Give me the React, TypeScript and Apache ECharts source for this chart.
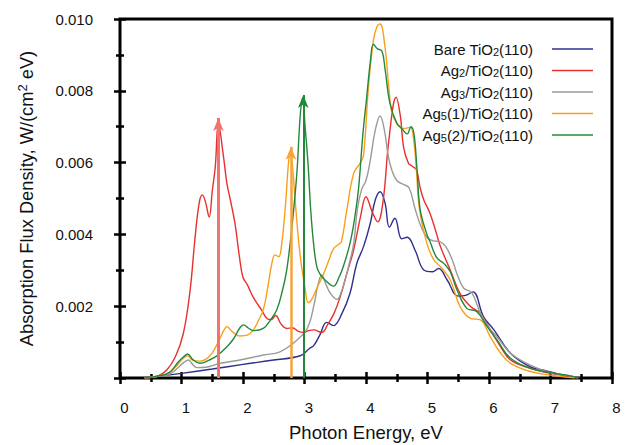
import React, { useEffect, useRef } from 'react';
import * as echarts from 'echarts';

const seriesNames = ['Bare TiO2(110)', 'Ag2/TiO2(110)', 'Ag3/TiO2(110)', 'Ag5(1)/TiO2(110)', 'Ag5(2)/TiO2(110)'];
const legendLabels: Record<string, string> = {
  'Bare TiO2(110)': 'Bare TiO{s|2}(110)',
  'Ag2/TiO2(110)': 'Ag{s|2}/TiO{s|2}(110)',
  'Ag3/TiO2(110)': 'Ag{s|3}/TiO{s|2}(110)',
  'Ag5(1)/TiO2(110)': 'Ag{s|5}(1)/TiO{s|2}(110)',
  'Ag5(2)/TiO2(110)': 'Ag{s|5}(2)/TiO{s|2}(110)',
};
const colors = ['#2f2f8c', '#e8302c', '#9a9a9a', '#f8a01c', '#23883a'];

const bare: number[][] = [
  [0.4, 0], [0.5, 0.00002], [1.0, 0.00013], [1.5, 0.00025], [2.0, 0.00038], [2.5, 0.0005], [2.93, 0.00062],
  [3.08, 0.00082], [3.15, 0.0009], [3.25, 0.0012], [3.36, 0.00155], [3.47, 0.00146], [3.61, 0.0018],
  [3.74, 0.00236], [3.85, 0.00319], [3.96, 0.00366], [4.07, 0.00431], [4.15, 0.00496], [4.23, 0.00519],
  [4.31, 0.00487], [4.38, 0.0042], [4.47, 0.00445], [4.58, 0.00388], [4.67, 0.00392], [4.8, 0.00355],
  [4.94, 0.00301], [5.08, 0.00296], [5.18, 0.00305], [5.32, 0.00273], [5.5, 0.00228], [5.62, 0.0023],
  [5.74, 0.0024], [5.91, 0.00171], [6.08, 0.00134], [6.35, 0.00069], [6.67, 0.00031], [6.89, 0.00022],
  [7.21, 0.00008], [7.48, 0.00001],
];

const ag2: number[][] = [
  [0.4, 0], [0.6, 0.00004], [0.76, 0.00022], [0.9, 0.00059], [1.03, 0.00124], [1.14, 0.00245], [1.22, 0.0039],
  [1.29, 0.0049], [1.34, 0.0051], [1.39, 0.0049], [1.45, 0.00448], [1.5, 0.0052], [1.55, 0.0059], [1.6, 0.0071],
  [1.68, 0.0062], [1.74, 0.0054], [1.79, 0.005], [1.87, 0.0043], [1.94, 0.0034], [2.0, 0.0028], [2.07, 0.0026],
  [2.15, 0.0023], [2.22, 0.0021], [2.3, 0.0019], [2.39, 0.00166], [2.46, 0.00163], [2.53, 0.00174],
  [2.62, 0.0015], [2.71, 0.00138], [2.8, 0.0014], [2.9, 0.0013], [2.98, 0.00127], [3.07, 0.00132],
  [3.15, 0.00134], [3.28, 0.00127], [3.38, 0.0015], [3.48, 0.0018], [3.58, 0.00226], [3.69, 0.00292],
  [3.8, 0.00357], [3.91, 0.00449], [4.0, 0.00505], [4.1, 0.00463], [4.19, 0.00435], [4.28, 0.00496],
  [4.37, 0.0066], [4.49, 0.00782], [4.56, 0.00728], [4.61, 0.00644], [4.69, 0.00598], [4.75, 0.0059],
  [4.82, 0.0058], [4.88, 0.0053], [4.94, 0.00496], [5.04, 0.00459], [5.15, 0.004], [5.21, 0.00366],
  [5.37, 0.00301], [5.53, 0.00235], [5.7, 0.00199], [5.86, 0.0018], [6.02, 0.00134], [6.19, 0.00087],
  [6.35, 0.0005], [6.67, 0.00027], [7.0, 0.00013], [7.32, 0.00004], [7.45, 0],
];

const ag3: number[][] = [
  [0.4, 0], [0.6, 0.00004], [0.8, 0.0001], [0.95, 0.0003], [1.05, 0.00045], [1.11, 0.0005], [1.18, 0.00038],
  [1.25, 0.00029], [1.4, 0.0003], [1.63, 0.00041], [1.95, 0.0005], [2.33, 0.00064], [2.6, 0.00073],
  [2.88, 0.00106], [3.05, 0.0014], [3.15, 0.002], [3.22, 0.0026], [3.28, 0.00287], [3.35, 0.0026],
  [3.42, 0.00236], [3.53, 0.00219], [3.6, 0.0024], [3.66, 0.00273], [3.73, 0.0032], [3.8, 0.00375],
  [3.86, 0.0047], [3.93, 0.00526], [4.0, 0.0055], [4.07, 0.00607], [4.15, 0.0069], [4.23, 0.0073],
  [4.3, 0.0069], [4.36, 0.0062], [4.42, 0.00579], [4.5, 0.0055], [4.6, 0.0054], [4.7, 0.0053],
  [4.8, 0.0047], [4.9, 0.0042], [5.0, 0.0039], [5.1, 0.00382], [5.2, 0.0038], [5.3, 0.00365],
  [5.4, 0.0033], [5.48, 0.0029], [5.59, 0.0025], [5.72, 0.00238], [5.86, 0.0018], [6.0, 0.0014],
  [6.13, 0.00115], [6.35, 0.00069], [6.67, 0.00036], [7.0, 0.00015], [7.32, 0.00006], [7.45, 0],
];

const ag5a: number[][] = [
  [0.4, 0], [0.6, 0.00005], [0.8, 0.00015], [0.95, 0.0004], [1.05, 0.00058], [1.1, 0.00062], [1.18, 0.0005],
  [1.3, 0.00047], [1.46, 0.00061], [1.6, 0.00101], [1.68, 0.0013], [1.74, 0.00143], [1.82, 0.0013],
  [1.95, 0.00117], [2.08, 0.0012], [2.17, 0.00134], [2.25, 0.0016], [2.33, 0.0019], [2.4, 0.0025],
  [2.47, 0.0032], [2.52, 0.00343], [2.58, 0.00338], [2.62, 0.0036], [2.69, 0.0048], [2.74, 0.006],
  [2.77, 0.0063], [2.81, 0.0058], [2.85, 0.0049], [2.93, 0.0034], [3.01, 0.0025], [3.06, 0.0021],
  [3.12, 0.0022], [3.2, 0.0025], [3.31, 0.0029], [3.4, 0.0033], [3.47, 0.0036], [3.55, 0.00372],
  [3.6, 0.0038], [3.69, 0.0047], [3.8, 0.0057], [3.91, 0.006], [3.96, 0.0062], [4.04, 0.0081],
  [4.12, 0.0094], [4.18, 0.0098], [4.23, 0.00986], [4.31, 0.0092], [4.37, 0.0081], [4.42, 0.0074],
  [4.5, 0.0071], [4.61, 0.00695], [4.72, 0.00698], [4.77, 0.0067], [4.82, 0.0058], [4.87, 0.0047],
  [4.99, 0.00375], [5.1, 0.0033], [5.21, 0.0031], [5.37, 0.00273], [5.53, 0.00199], [5.7, 0.00166],
  [5.86, 0.00162], [6.02, 0.00115], [6.19, 0.00069], [6.35, 0.00041], [6.67, 0.00018], [7.0, 0.00008],
  [7.4, 0],
];

const ag5b: number[][] = [
  [0.4, 0], [0.6, 0.00005], [0.8, 0.00015], [0.95, 0.00045], [1.04, 0.0006], [1.1, 0.00067], [1.18, 0.00052],
  [1.3, 0.00041], [1.45, 0.0005], [1.57, 0.00061], [1.74, 0.00087], [1.85, 0.0011], [1.95, 0.0014],
  [2.01, 0.00148], [2.08, 0.0014], [2.17, 0.00132], [2.33, 0.00138], [2.44, 0.0016], [2.55, 0.0019],
  [2.65, 0.0025], [2.71, 0.003], [2.77, 0.0038], [2.83, 0.0048], [2.88, 0.0058], [2.93, 0.0073],
  [2.97, 0.0078], [3.01, 0.007], [3.06, 0.0059], [3.1, 0.0047], [3.15, 0.0037], [3.2, 0.0031],
  [3.25, 0.0029], [3.35, 0.0027], [3.47, 0.00256], [3.56, 0.0028], [3.63, 0.0031], [3.74, 0.00375],
  [3.82, 0.0045], [3.88, 0.0053], [3.95, 0.0068], [4.01, 0.0078], [4.07, 0.0088], [4.12, 0.0093],
  [4.18, 0.00918], [4.26, 0.0091], [4.31, 0.0086], [4.39, 0.00765], [4.5, 0.0071], [4.58, 0.00695],
  [4.67, 0.0068], [4.73, 0.007], [4.78, 0.0068], [4.83, 0.0058], [4.88, 0.0047], [4.99, 0.004],
  [5.04, 0.0038], [5.15, 0.00335], [5.26, 0.0032], [5.37, 0.00296], [5.48, 0.00245], [5.64, 0.00194],
  [5.8, 0.00185], [5.97, 0.00143], [6.13, 0.00106], [6.35, 0.00055], [6.67, 0.00027], [7.0, 0.00015],
  [7.32, 0.00006], [7.45, 0],
];

const seriesData = [bare, ag2, ag3, ag5a, ag5b];

// vertical arrows: [x, tip y]
const arrowSeriesIndex = [1, 3, 4];
const arrowX = [1.6, 2.78, 2.98];
const arrowTop = [0.00724, 0.00644, 0.00788];
const arrowColors = ['#f27272', '#f7a53a', '#23883a'];
const arrowWidths = [3, 2.5, 2];

const FONT = 'Liberation Sans, Arial, Helvetica, sans-serif';

export default function App() {
  const ref = useRef<HTMLDivElement>(null);
  useEffect(() => {
    document.body.style.margin = '0';
    const chart = echarts.init(ref.current!, null, { renderer: 'svg' });
    const tickStyle = { color: '#000', width: 2.5 };
    const makeX = (pos: 'bottom' | 'top', labels: boolean) => ({
      type: 'value',
      position: pos,
      min: 0,
      max: 8,
      interval: 1,
      axisLine: { show: false },
      splitLine: { show: false },
      axisTick: { show: true, inside: true, length: 6, lineStyle: tickStyle },
      minorTick: { show: true, splitNumber: 2, length: 4, lineStyle: tickStyle },
      axisLabel: labels
        ? { show: true, margin: 22, fontSize: 15, color: '#111', fontFamily: FONT, padding: [0, 0, 0, 9] }
        : { show: false },
      name: labels ? 'Photon Energy, eV' : '',
      nameLocation: 'middle',
      nameGap: 45,
      nameTextStyle: { fontSize: 18.5, color: '#111', fontFamily: FONT },
    });
    const makeY = (pos: 'left' | 'right', labels: boolean) => ({
      type: 'value',
      position: pos,
      min: 0,
      max: 0.01,
      interval: 0.002,
      axisLine: { show: false },
      splitLine: { show: false },
      axisTick: { show: true, inside: true, length: 6, lineStyle: tickStyle },
      minorTick: { show: true, splitNumber: 2, length: 4, lineStyle: tickStyle },
      axisLabel: labels
        ? {
            show: true,
            margin: 27,
            fontSize: 15,
            color: '#111',
            fontFamily: FONT,
            formatter: (v: number) => (v === 0 ? '' : v.toFixed(3)),
          }
        : { show: false },
      name: labels ? 'Absorption Flux Density, W/(cm{p|2} eV)' : '',
      nameLocation: 'middle',
      nameGap: 84,
      nameRotate: 90,
      nameTextStyle: {
        fontSize: 18.3,
        color: '#111',
        fontFamily: FONT,
        lineHeight: 20,
        rich: {
          p: { fontSize: 13, lineHeight: 8, verticalAlign: 'top', fontFamily: FONT, color: '#111' },
        },
      },
    });

    const series: any[] = seriesNames.map((name, i) => ({
      name,
      type: 'line',
      data: seriesData[i],
      smooth: 0.4,
      symbol: 'none',
      showSymbol: false,
      xAxisIndex: 0,
      yAxisIndex: 0,
      lineStyle: { color: colors[i], width: 1.4 },
      itemStyle: { color: colors[i] },
      emphasis: { disabled: true },
      z: 3,
    }));
    arrowSeriesIndex.forEach((si, k) => {
      series[si].markLine = {
        silent: true,
        symbol: ['none', 'arrow'],
        symbolSize: 10,
        label: { show: false },
        emphasis: { disabled: true },
        lineStyle: { color: arrowColors[k], width: arrowWidths[k], type: 'solid', opacity: 1 },
        itemStyle: { color: arrowColors[k] },
        data: [[{ coord: [arrowX[k], 0] }, { coord: [arrowX[k], arrowTop[k]], symbolSize: [8, 13] }]],
      };
    });

    chart.setOption({
      animation: false,
      backgroundColor: '#fff',
      grid: {
        left: 120,
        right: 14,
        top: 19,
        bottom: 67,
        show: true,
        borderColor: '#000',
        borderWidth: 3,
        backgroundColor: 'transparent',
        containLabel: false,
        outerBoundsMode: 'none',
      },
      legend: {
        orient: 'vertical',
        align: 'right',
        right: 28,
        top: 36,
        itemWidth: 41,
        itemHeight: 1.5,
        itemGap: 5.5,
        icon: 'rect',
        selectedMode: false,
        data: seriesNames,
        formatter: (name: string) => legendLabels[name],
        textStyle: {
          fontSize: 15,
          color: '#111',
          fontFamily: FONT,
          lineHeight: 16,
          padding: [0, 14, 0, 0],
          rich: {
            s: { fontSize: 11, lineHeight: 4, verticalAlign: 'bottom', fontFamily: FONT, color: '#111' },
          },
        },
      },
      xAxis: [makeX('bottom', true), makeX('top', false)],
      yAxis: [makeY('left', true), makeY('right', false)],
      series,
    });
    return () => chart.dispose();
  }, []);
  return <div ref={ref} style={{ width: 626, height: 445 }} />;
}
